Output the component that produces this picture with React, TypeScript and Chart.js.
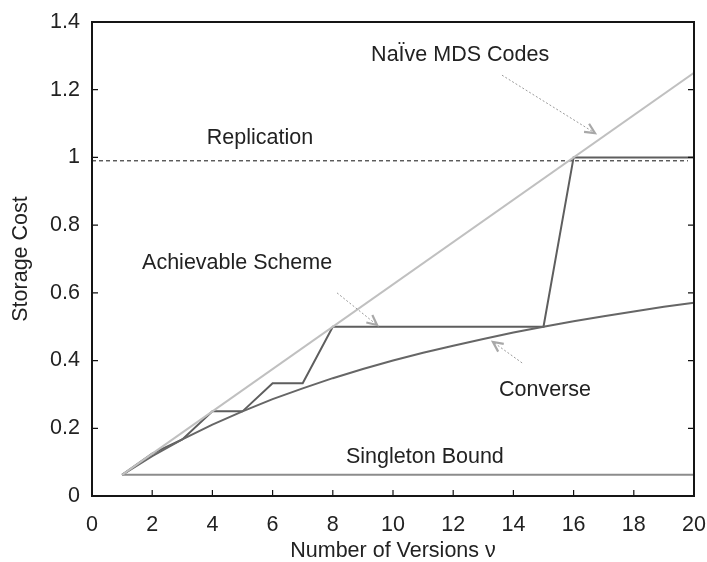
import React, { useEffect, useRef } from "react";
import { Chart, registerables } from "chart.js";

Chart.register(...registerables);

// ---- data ----
const xTickValues = [0, 2, 4, 6, 8, 10, 12, 14, 16, 18, 20];
const yTickValues = [0, 0.2, 0.4, 0.6, 0.8, 1, 1.2, 1.4];
const yTickLabels = ["0", "0.2", "0.4", "0.6", "0.8", "1", "1.2", "1.4"];

const mdsX = [1, 20];
const mdsY = [0.0625, 1.25];

const replicationX = [0, 19.8];
const replicationY = [0.99, 0.99];

const achievableX = [1, 2, 3, 4, 5, 6, 7, 8, 15, 16, 20];
const achievableY = [0.0625, 0.125, 0.167, 0.25, 0.25, 0.333, 0.333, 0.5, 0.5, 1, 1];

const converseX = [1, 2, 3, 4, 5, 6, 7, 8, 9, 10, 11, 12, 13, 14, 15, 16, 17, 18, 19, 20];
const converseY = [0.0625, 0.118, 0.167, 0.211, 0.25, 0.286, 0.318, 0.348, 0.375, 0.4, 0.423, 0.444, 0.464, 0.483, 0.5, 0.516, 0.531, 0.545, 0.559, 0.571];

const singletonX = [1, 20];
const singletonY = [0.0625, 0.0625];

// annotation texts (anchored in data coordinates)
const labelTexts = ["NaÏve MDS Codes", "Replication", "Achievable Scheme", "Converse", "Singleton Bound"];
const labelX = [12.23, 5.58, 4.82, 15.05, 11.06];
const labelY = [1.302, 1.057, 0.688, 0.313, 0.115];

// arrows: from (x0,y0) to head (x1,y1), in data coordinates
const arrowX0 = [13.62, 8.14, 14.29];
const arrowY0 = [1.243, 0.6, 0.393];
const arrowX1 = [16.71, 9.47, 13.32];
const arrowY1 = [1.072, 0.505, 0.455];

const FONT = '"Liberation Sans", Arial, Helvetica, sans-serif';
const FSIZE = 21.5;

const pts = (xs: number[], ys: number[]) => xs.map((x, i) => ({ x, y: ys[i] }));

const decorPlugin = {
  id: "decor",
  afterDatasetsDraw(chart: any) {
    const { ctx, chartArea: a, scales } = chart;
    const sx = scales.x;
    const sy = scales.y;
    ctx.save();
    // inward ticks
    ctx.strokeStyle = "#111";
    ctx.lineWidth = 1.2;
    xTickValues.forEach((v) => {
      const px = sx.getPixelForValue(v);
      ctx.beginPath();
      ctx.moveTo(px, a.bottom);
      ctx.lineTo(px, a.bottom - 6);
      ctx.stroke();
    });
    yTickValues.forEach((v) => {
      const py = sy.getPixelForValue(v);
      ctx.beginPath();
      ctx.moveTo(a.left, py);
      ctx.lineTo(a.left + 6, py);
      ctx.moveTo(a.right, py);
      ctx.lineTo(a.right - 6, py);
      ctx.stroke();
    });
    // frame
    ctx.lineWidth = 2;
    ctx.strokeStyle = "#151515";
    ctx.strokeRect(a.left, a.top, a.right - a.left, a.bottom - a.top);

    // labels
    ctx.fillStyle = "#222";
    ctx.font = `${FSIZE}px ${FONT}`;
    ctx.textAlign = "center";
    ctx.textBaseline = "middle";
    labelTexts.forEach((t, i) => {
      ctx.fillText(t, sx.getPixelForValue(labelX[i]), sy.getPixelForValue(labelY[i]));
    });

    // arrows
    arrowX0.forEach((_, i) => {
      const x0 = sx.getPixelForValue(arrowX0[i]);
      const y0 = sy.getPixelForValue(arrowY0[i]);
      const x1 = sx.getPixelForValue(arrowX1[i]);
      const y1 = sy.getPixelForValue(arrowY1[i]);
      ctx.strokeStyle = "#9a9a9a";
      ctx.lineWidth = 1;
      ctx.setLineDash([2, 2]);
      ctx.beginPath();
      ctx.moveTo(x0, y0);
      ctx.lineTo(x1, y1);
      ctx.stroke();
      ctx.setLineDash([]);
      const ang = Math.atan2(y1 - y0, x1 - x0);
      const len = 11;
      const spread = 0.45;
      ctx.strokeStyle = "#a8a8a8";
      ctx.lineWidth = 2.2;
      ctx.beginPath();
      ctx.moveTo(x1 - len * Math.cos(ang - spread), y1 - len * Math.sin(ang - spread));
      ctx.lineTo(x1, y1);
      ctx.lineTo(x1 - len * Math.cos(ang + spread), y1 - len * Math.sin(ang + spread));
      ctx.stroke();
    });
    ctx.restore();
  },
};

export default function App() {
  const ref = useRef<HTMLCanvasElement | null>(null);
  useEffect(() => {
    if (!ref.current) return;
    const chart = new Chart(ref.current, {
      type: "line",
      data: {
        datasets: [
          {
            label: "Naive MDS Codes",
            data: pts(mdsX, mdsY),
            borderColor: "#c0c0c0",
            borderWidth: 2,
            pointRadius: 0,
          },
          {
            label: "Replication",
            data: pts(replicationX, replicationY),
            borderColor: "#111",
            borderWidth: 1,
            borderDash: [4, 3],
            pointRadius: 0,
          },
          {
            label: "Singleton Bound",
            data: pts(singletonX, singletonY),
            borderColor: "#8c8c8c",
            borderWidth: 2,
            pointRadius: 0,
          },
          {
            label: "Converse",
            data: pts(converseX, converseY),
            borderColor: "#666",
            borderWidth: 2,
            pointRadius: 0,
          },
          {
            label: "Achievable Scheme",
            data: pts(achievableX, achievableY),
            borderColor: "#5e5e5e",
            borderWidth: 2,
            pointRadius: 0,
          },
        ],
      },
      options: {
        animation: false,
        responsive: true,
        maintainAspectRatio: false,
        layout: { padding: { top: 22, right: 13, left: 0, bottom: 0 } },
        plugins: { legend: { display: false }, tooltip: { enabled: false } },
        elements: { line: { tension: 0 } },
        scales: {
          x: {
            type: "linear",
            min: 0,
            max: 20,
            grid: { display: false, drawTicks: false },
            border: { display: false },
            afterBuildTicks: (s: any) => {
              s.ticks = xTickValues.map((v) => ({ value: v }));
            },
            afterFit: (s: any) => {
              s.height = 66;
              s.paddingLeft = 0;
              s.paddingRight = 0;
            },
            ticks: {
              padding: 16,
              color: "#222",
              font: { family: FONT, size: FSIZE },
              maxRotation: 0,
              callback: (v: any) => String(v),
            },
            title: {
              display: true,
              text: "Number of Versions ν",
              color: "#222",
              font: { family: FONT, size: FSIZE, lineHeight: 1.0 },
              padding: { top: 0, bottom: 0 },
            },
          },
          y: {
            type: "linear",
            min: 0,
            max: 1.4,
            grid: { display: false, drawTicks: false },
            border: { display: false },
            afterBuildTicks: (s: any) => {
              s.ticks = yTickValues.map((v) => ({ value: v }));
            },
            afterFit: (s: any) => {
              s.width = 92;
              s.paddingTop = 0;
              s.paddingBottom = 0;
            },
            ticks: {
              padding: 12,
              color: "#222",
              font: { family: FONT, size: FSIZE },
              callback: (_v: any, i: number) => yTickLabels[i],
            },
            title: {
              display: true,
              text: "Storage Cost",
              color: "#222",
              font: { family: FONT, size: FSIZE },
              padding: { top: 8, bottom: 0 },
            },
          },
        },
      },
      plugins: [decorPlugin],
    });
    return () => chart.destroy();
  }, []);
  return (
    <div style={{ position: "absolute", left: 0, top: 0, width: 707, height: 562 }}>
      <canvas ref={ref} />
    </div>
  );
}
